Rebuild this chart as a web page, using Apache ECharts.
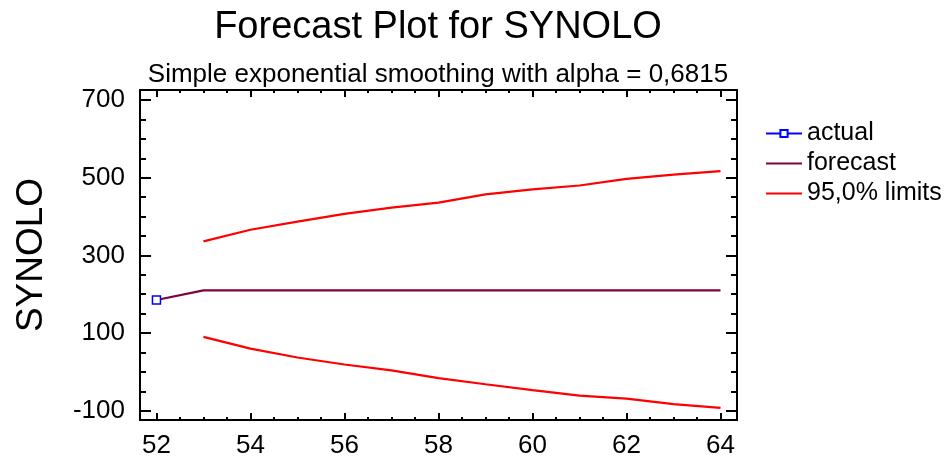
<!DOCTYPE html>
<html lang="en">
<head>
    <meta charset="UTF-8" />
    <title>Forecast Plot for SYNOLO</title>
    <script src="https://cdn.jsdelivr.net/npm/echarts@6/dist/echarts.min.js"></script>
    <style>
        html, body {
            margin: 0;
            padding: 0;
            background: #fff;
        }

        #forecast {
            width: 949px;
            height: 459px;
        }
    </style>
</head>
<body>
    <div id="forecast"></div>
    <script type="text/javascript">
        // periods and values
        var periods = [52, 53, 54, 55, 56, 57, 58, 59, 60, 61, 62, 63, 64];
        var actualPeriods = [52];
        var actualValues = [185];
        var forecastValues = [185, 210, 210, 210, 210, 210, 210, 210, 210, 210, 210, 210, 210];
        var upperPeriods = [53, 54, 55, 56, 57, 58, 59, 60, 61, 62, 63, 64];
        var upperValues = [336, 366, 387, 407, 423, 436, 457, 470, 480, 497, 508, 517];
        var lowerValues = [90, 60, 37, 19, 4, -16, -32, -47, -61, -69, -83, -93];

        // tick labels
        var xMajorTicks = [52, 54, 56, 58, 60, 62, 64];
        var xMinorTicks = [52.5, 53, 53.5, 54.5, 55, 55.5, 56.5, 57, 57.5, 58.5, 59, 59.5, 60.5, 61, 61.5, 62.5, 63, 63.5];
        var yMajorTicks = [-100, 100, 300, 500, 700];
        var yMinorTicks = [-50, 0, 50, 150, 200, 250, 350, 400, 450, 550, 600, 650];

        var FONT = '"Liberation Sans", Arial, sans-serif';

        function pairs(xs, ys) {
            return xs.map(function (x, i) { return [x, ys[i]]; });
        }

        // one axis per side and tick size; the long ones carry the labels
        function xAx(pos, ticks, len, labels) {
            return {
                type: 'value', position: pos, min: 51.65, max: 64.35,
                axisLine: { show: true, onZero: false, lineStyle: { color: '#000', width: 2 } },
                axisTick: { show: true, inside: true, length: len, customValues: ticks, lineStyle: { color: '#000', width: 2 } },
                axisLabel: { show: labels, customValues: ticks, margin: 13, color: '#000', fontSize: 26, fontFamily: FONT },
                splitLine: { show: false }
            };
        }

        function yAx(pos, ticks, len, labels) {
            return {
                type: 'value', position: pos, min: -124, max: 726,
                axisLine: { show: true, onZero: false, lineStyle: { color: '#000', width: 2 } },
                axisTick: { show: true, inside: true, length: len, customValues: ticks, lineStyle: { color: '#000', width: 2 } },
                axisLabel: { show: labels, customValues: ticks, margin: 15, color: '#000', fontSize: 26, fontFamily: FONT },
                splitLine: { show: false }
            };
        }

        var yMain = yAx('left', yMajorTicks, 11, true);
        yMain.name = 'SYNOLO';
        yMain.nameLocation = 'middle';
        yMain.nameRotate = 90;
        yMain.nameGap = 90;
        yMain.nameTextStyle = { color: '#000', fontSize: 37, fontFamily: FONT };

        var chart = echarts.init(document.getElementById('forecast'));
        chart.setOption({
            animation: false,
            backgroundColor: '#fff',
            graphic: [
                {
                    type: 'text', x: 438, y: 28,
                    style: { text: 'Forecast Plot for SYNOLO', fontSize: 38, fontFamily: FONT, fill: '#000', align: 'center', verticalAlign: 'middle' }
                },
                {
                    type: 'text', x: 438, y: 75,
                    style: { text: 'Simple exponential smoothing with alpha = 0,6815', fontSize: 26, fontFamily: FONT, fill: '#000', align: 'center', verticalAlign: 'middle' }
                }
            ],
            grid: { left: 140, right: 212, top: 90, bottom: 37, containLabel: false },
            legend: {
                orient: 'vertical', left: 760, top: 116,
                itemWidth: 36, itemHeight: 9, itemGap: 5,
                textStyle: { color: '#000', fontSize: 25, fontFamily: FONT },
                data: [
                    { name: 'actual' },
                    { name: 'forecast', itemStyle: { opacity: 0 } },
                    { name: '95,0% limits', itemStyle: { opacity: 0 } }
                ]
            },
            xAxis: [
                xAx('bottom', xMajorTicks, 7, true),
                xAx('bottom', xMinorTicks, 3, false),
                xAx('top', xMajorTicks, 7, false),
                xAx('top', xMinorTicks, 3, false)
            ],
            yAxis: [
                yMain,
                yAx('left', yMinorTicks, 6, false),
                yAx('right', yMajorTicks, 11, false),
                yAx('right', yMinorTicks, 6, false)
            ],
            series: [
                {
                    name: 'forecast', type: 'line', symbol: 'none',
                    data: pairs(periods, forecastValues),
                    itemStyle: { color: '#800040' },
                    lineStyle: { color: '#800040', width: 2.2 }
                },
                {
                    name: '95,0% limits', type: 'line', symbol: 'none',
                    data: pairs(upperPeriods, upperValues),
                    itemStyle: { color: '#ff0000' },
                    lineStyle: { color: '#ff0000', width: 2.2 }
                },
                {
                    name: '95,0% limits', type: 'line', symbol: 'none',
                    data: pairs(upperPeriods, lowerValues),
                    itemStyle: { color: '#ff0000' },
                    lineStyle: { color: '#ff0000', width: 2.2 }
                },
                {
                    name: 'actual', type: 'line', symbol: 'rect', symbolSize: 8,
                    data: pairs(actualPeriods, actualValues),
                    itemStyle: { color: '#fff', borderColor: '#0000ff', borderWidth: 1.5 },
                    lineStyle: { color: '#0000ff', width: 1.5 },
                    z: 5
                }
            ]
        });
        window.onresize = function () {
            chart.resize();
        };
    </script>
</body>
</html>
